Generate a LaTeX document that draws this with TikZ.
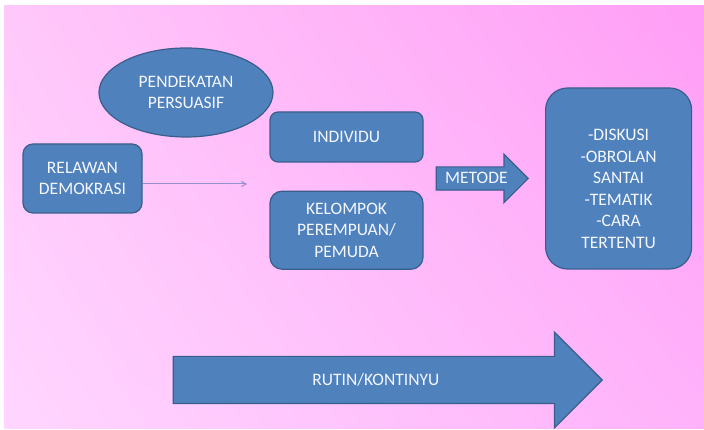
\documentclass[tikz,border=0pt]{standalone}
\usepackage{fontspec}
\setmainfont{Carlito}
\usepackage{xcolor}
\usetikzlibrary{shapes.geometric, shapes.arrows, arrows, positioning, shadings}
\definecolor{boxblue}{RGB}{79,129,189}
\definecolor{boxedge}{RGB}{58,94,140}
\definecolor{lineblue}{RGB}{146,144,206}
\definecolor{boxtext}{RGB}{244,247,255}
\definecolor{bgtl}{RGB}{255,200,250}
\definecolor{bgtr}{RGB}{255,158,246}
\definecolor{bgbl}{RGB}{255,214,255}
\definecolor{bgbr}{RGB}{255,178,250}
\tikzstyle{arrow} = [->,>=angle 60, draw=lineblue, line width=1pt]

\begin{document}
\begin{tikzpicture}[x=1pt, y=1pt, font=\fontsize{17.5}{21.5}\selectfont]
\tikzstyle{box} = [rectangle, rounded corners=10pt, draw=boxedge, line width=1.2pt, fill=boxblue, text=boxtext, align=center, inner sep=0pt]
\tikzstyle{oval} = [ellipse, draw=boxedge, line width=1.2pt, fill=boxblue, text=boxtext, align=center, inner sep=0pt, minimum width=174pt, minimum height=89pt]
\tikzstyle{block} = [single arrow, draw=boxedge, line width=1.2pt, fill=boxblue, text=boxtext, single arrow tip angle=90, text height=11pt, text depth=0pt, inner xsep=4pt]

\useasboundingbox (0,0) rectangle (704,430);
\shade [upper left=bgtl, upper right=bgtr, lower left=bgbl, lower right=bgbr] (4,1) rectangle (704,424);

\node (relawan) [box, minimum width=119pt, minimum height=69pt] at (82.5,251.5) {RELAWAN\\DEMOKRASI};
\node (persuasif) [oval] at (186,337.5) {PENDEKATAN\\PERSUASIF};
\node (individu) [box, rounded corners=8pt, minimum width=153pt, minimum height=50pt] at (346.5,293) {INDIVIDU};
\node (kelompok) [box, rounded corners=12pt, minimum width=153pt, minimum height=78pt, below=28pt of individu] {KELOMPOK\\PEREMPUAN/\\PEMUDA};
\node (metode) [block, minimum height=92pt, inner ysep=5.5pt, single arrow head extend=12.5pt, anchor=tip] at (529,251.5) {METODE};
\node (cara) [box, rounded corners=22pt, minimum width=146pt, minimum height=181pt, right=16pt of metode.tip] {};
\node (caratext) [text=boxtext, align=center] at ([yshift=-10.5pt]cara.center) {-DISKUSI\\-OBROLAN\\SANTAI\\-TEMATIK\\-CARA\\TERTENTU};
\node (rutin) [block, minimum height=429pt, inner ysep=17.5pt, single arrow head extend=24pt, anchor=tip] at (603,50) {RUTIN/KONTINYU};
\coordinate (arrowend) at (247,246);

\draw [arrow] ([yshift=-5.5pt]relawan.east) -- (arrowend);

\end{tikzpicture}
\end{document}
